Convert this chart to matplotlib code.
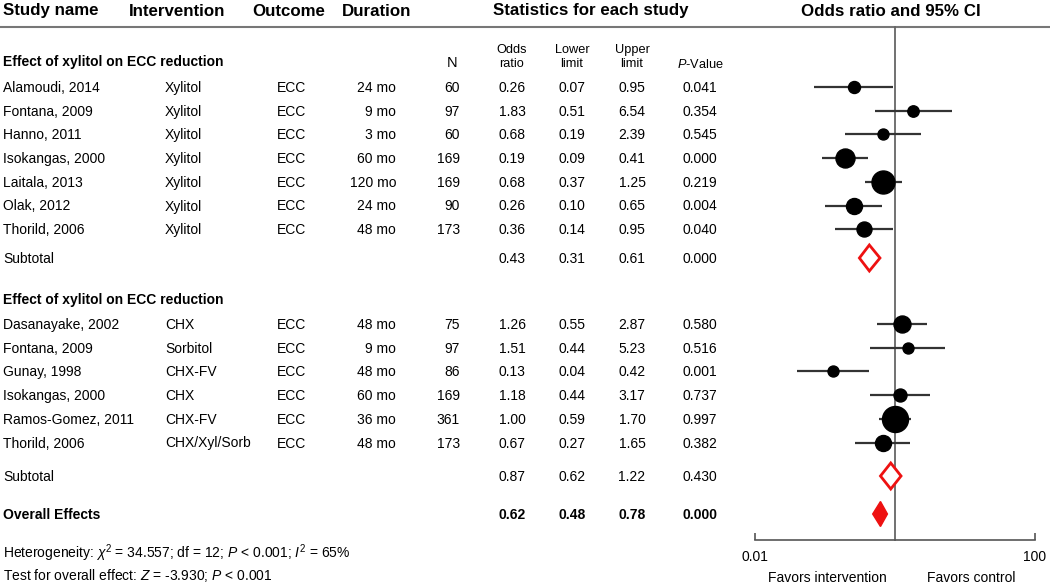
import matplotlib
matplotlib.use("Agg")
import matplotlib.pyplot as plt
from matplotlib.patches import Polygon
import numpy as np

plt.rcParams['font.family'] = ['Liberation Sans', 'DejaVu Sans']
plt.rcParams['mathtext.fontset'] = 'custom'
plt.rcParams['mathtext.rm'] = 'Liberation Sans'
plt.rcParams['mathtext.it'] = 'Liberation Sans:italic'
plt.rcParams['mathtext.bf'] = 'Liberation Sans:bold'

# ---------------- data ----------------
group_titles = ["Effect of xylitol on ECC reduction", "Effect of xylitol on ECC reduction"]

g1_study = ["Alamoudi, 2014", "Fontana, 2009", "Hanno, 2011", "Isokangas, 2000",
            "Laitala, 2013", "Olak, 2012", "Thorild, 2006"]
g1_interv = ["Xylitol"] * 7
g1_outcome = ["ECC"] * 7
g1_duration = ["24 mo", "9 mo", "3 mo", "60 mo", "120 mo", "24 mo", "48 mo"]
g1_n = [60, 97, 60, 169, 169, 90, 173]
g1_or = [0.26, 1.83, 0.68, 0.19, 0.68, 0.26, 0.36]
g1_lo = [0.07, 0.51, 0.19, 0.09, 0.37, 0.10, 0.14]
g1_hi = [0.95, 6.54, 2.39, 0.41, 1.25, 0.65, 0.95]
g1_p = ["0.041", "0.354", "0.545", "0.000", "0.219", "0.004", "0.040"]
g1_wt = [1.44, 1.30, 1.21, 3.61, 5.29, 2.56, 2.25]   # relative weight (marker area)
g1_sub = [0.43, 0.31, 0.61, "0.000"]

g2_study = ["Dasanayake, 2002", "Fontana, 2009", "Gunay, 1998", "Isokangas, 2000",
            "Ramos-Gomez, 2011", "Thorild, 2006"]
g2_interv = ["CHX", "Sorbitol", "CHX-FV", "CHX", "CHX-FV", "CHX/Xyl/Sorb"]
g2_outcome = ["ECC"] * 6
g2_duration = ["48 mo", "9 mo", "48 mo", "60 mo", "36 mo", "48 mo"]
g2_n = [75, 97, 86, 169, 361, 173]
g2_or = [1.26, 1.51, 0.13, 1.18, 1.00, 0.67]
g2_lo = [0.55, 0.44, 0.04, 0.44, 0.59, 0.27]
g2_hi = [2.87, 5.23, 0.42, 3.17, 1.70, 1.65]
g2_p = ["0.580", "0.516", "0.001", "0.737", "0.997", "0.382"]
g2_wt = [2.89, 1.21, 1.21, 1.69, 6.76, 2.56]
g2_sub = [0.87, 0.62, 1.22, "0.430"]

overall = [0.62, 0.48, 0.78, "0.000"]

axis_ticks = [0.01, 100]
axis_ticklabels = ["0.01", "100"]

# ---------------- layout ----------------
W, H = 1050, 586
fig = plt.figure(figsize=(W / 100, H / 100), dpi=100)
ax_t = fig.add_axes([0, 0, 1, 1])
ax_t.set_xlim(0, W)
ax_t.set_ylim(H, 0)
ax_t.axis('off')

rule_y = 27
axis_y = 540
x_left, x_right = 755, 1035
ax_f = fig.add_axes([x_left / W, (H - axis_y) / H, (x_right - x_left) / W, (axis_y - rule_y) / H])
ax_f.set_xscale('log')
ax_f.set_xlim(0.01, 100)
ax_f.set_ylim(axis_y, rule_y)
ax_f.patch.set_alpha(0)
for s in ['top', 'right', 'left']:
    ax_f.spines[s].set_visible(False)
ax_f.spines['bottom'].set_color('#555555')
ax_f.spines['bottom'].set_linewidth(1.2)
ax_f.set_yticks([])
ax_f.set_xticks(axis_ticks)
ax_f.set_xticklabels([])
ax_f.xaxis.set_minor_locator(matplotlib.ticker.NullLocator())
ax_f.tick_params(axis='x', direction='in', length=5, width=1.2, color='#555555')

# column x positions
cx_study, cx_int, cx_out, cx_dur, cx_n = 3, 165, 277, 396, 460
cx_or, cx_lo, cx_hi, cx_p = 512, 572, 632, 700

fs = 10
hfs = 12.2

# headers
ax_t.text(3, 11, "Study name", fontsize=hfs, fontweight='bold', va='center')
ax_t.text(129, 11, "Intervention", fontsize=hfs, fontweight='bold', va='center')
ax_t.text(252, 11, "Outcome", fontsize=hfs, fontweight='bold', va='center')
ax_t.text(342, 11, "Duration", fontsize=hfs, fontweight='bold', va='center')
ax_t.text(591, 11, "Statistics for each study", fontsize=hfs, fontweight='bold', va='center', ha='center')
ax_t.text(891, 11, "Odds ratio and 95% CI", fontsize=hfs, fontweight='bold', va='center', ha='center')
ax_t.plot([0, W], [rule_y, rule_y], color='#777777', lw=1.5)

# column sub-headers
sub_fs = 9.2
ax_t.text(452, 63, "N", fontsize=10.5, ha='center', va='center')
for cx, l1, l2 in [(cx_or, "Odds", "ratio"), (cx_lo, "Lower", "limit"), (cx_hi, "Upper", "limit")]:
    ax_t.text(cx, 50, l1, fontsize=sub_fs, ha='center', va='center')
    ax_t.text(cx, 64, l2, fontsize=sub_fs, ha='center', va='center')
ax_t.text(cx_p, 64, r"$P$-Value", fontsize=sub_fs, ha='center', va='center')

dy = 23.7


def draw_group(y_title, y0, study, interv, outcome, dur, n, orv, lo, hi, p, wt, sub, y_sub, title):
    ax_t.text(3, y_title, title, fontsize=fs, fontweight='bold', va='center')
    ys = [y0 + i * dy for i in range(len(study))]
    for i, y in enumerate(ys):
        ty = y + 1
        ax_t.text(cx_study, ty, study[i], fontsize=fs, va='center')
        ax_t.text(cx_int, ty, interv[i], fontsize=fs, va='center')
        ax_t.text(cx_out, ty, outcome[i], fontsize=fs, va='center')
        ax_t.text(cx_dur, ty, dur[i], fontsize=fs, va='center', ha='right')
        ax_t.text(cx_n, ty, str(n[i]), fontsize=fs, va='center', ha='right')
        ax_t.text(cx_or, ty, f"{orv[i]:.2f}", fontsize=fs, va='center', ha='center')
        ax_t.text(cx_lo, ty, f"{lo[i]:.2f}", fontsize=fs, va='center', ha='center')
        ax_t.text(cx_hi, ty, f"{hi[i]:.2f}", fontsize=fs, va='center', ha='center')
        ax_t.text(cx_p, ty, p[i], fontsize=fs, va='center', ha='center')
        ax_f.plot([lo[i], hi[i]], [y, y], color='#333333', lw=1.6, zorder=2, solid_capstyle='butt')
        diam_px = 10.0 * np.sqrt(wt[i])
        ax_f.plot([orv[i]], [y], 'o', color='black', ms=diam_px * 0.72, zorder=3)
    # subtotal
    ty = y_sub + 1
    ax_t.text(cx_study, ty, "Subtotal", fontsize=fs, va='center')
    ax_t.text(cx_or, ty, f"{sub[0]:.2f}", fontsize=fs, va='center', ha='center')
    ax_t.text(cx_lo, ty, f"{sub[1]:.2f}", fontsize=fs, va='center', ha='center')
    ax_t.text(cx_hi, ty, f"{sub[2]:.2f}", fontsize=fs, va='center', ha='center')
    ax_t.text(cx_p, ty, sub[3], fontsize=fs, va='center', ha='center')
    hh = 13
    poly = Polygon([[sub[1], y_sub], [sub[0], y_sub - hh], [sub[2], y_sub], [sub[0], y_sub + hh]],
                   closed=True, facecolor='white', edgecolor='#ee1111', lw=2, zorder=4)
    ax_f.add_patch(poly)


draw_group(62, 87, g1_study, g1_interv, g1_outcome, g1_duration, g1_n, g1_or, g1_lo, g1_hi,
           g1_p, g1_wt, g1_sub, 258, group_titles[0])
draw_group(300, 324, g2_study, g2_interv, g2_outcome, g2_duration, g2_n, g2_or, g2_lo, g2_hi,
           g2_p, g2_wt, g2_sub, 476, group_titles[1])

# overall
y_ov = 514
ax_t.text(3, y_ov + 1, "Overall Effects", fontsize=fs, fontweight='bold', va='center')
ax_t.text(cx_or, y_ov + 1, f"{overall[0]:.2f}", fontsize=fs, fontweight='bold', va='center', ha='center')
ax_t.text(cx_lo, y_ov + 1, f"{overall[1]:.2f}", fontsize=fs, fontweight='bold', va='center', ha='center')
ax_t.text(cx_hi, y_ov + 1, f"{overall[2]:.2f}", fontsize=fs, fontweight='bold', va='center', ha='center')
ax_t.text(cx_p, y_ov + 1, overall[3], fontsize=fs, fontweight='bold', va='center', ha='center')
hh = 12.5
ax_f.add_patch(Polygon([[overall[1], y_ov], [overall[0], y_ov - hh], [overall[2], y_ov], [overall[0], y_ov + hh]],
                       closed=True, facecolor='#ee1111', edgecolor='#ee1111', lw=1, zorder=4))

# null line
ax_f.plot([1, 1], [rule_y, axis_y], color='#666666', lw=1.3, zorder=1, clip_on=False)

# axis labels
for t, lab in zip(axis_ticks, axis_ticklabels):
    ax_f.text(t, 557, lab, fontsize=fs, ha='center', va='center', clip_on=False)
ax_t.text(887, 578, "Favors intervention", fontsize=fs, ha='right', va='center')
ax_t.text(927, 578, "Favors control", fontsize=fs, ha='left', va='center')

# footer
ax_t.text(3, 553, r"Heterogeneity: $\chi^2$ = 34.557; df = 12; $P$ < 0.001; $I^2$ = 65%",
          fontsize=fs, va='center')
ax_t.text(3, 576, r"Test for overall effect: $Z$ = -3.930; $P$ < 0.001", fontsize=fs, va='center')

fig.savefig("out.png", dpi=100)
